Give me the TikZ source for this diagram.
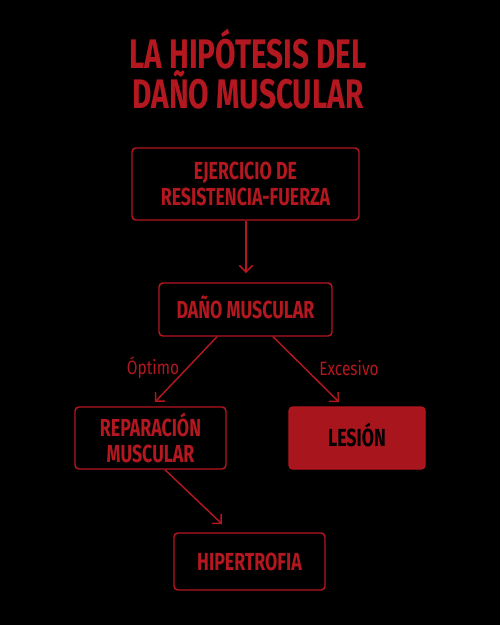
\documentclass[tikz,border=0pt]{standalone}
\usepackage{fontspec}
\setmainfont{Fira Sans}[FakeStretch=0.8]
\newfontfamily\condfont{Fira Sans}[FakeStretch=0.72]
\usetikzlibrary{arrows.meta}
\definecolor{cred}{HTML}{B3171F}
\definecolor{cfill}{HTML}{A8151C}
\begin{document}
\begin{tikzpicture}[x=0.75pt,y=-0.75pt,
  box/.style={draw=cred,line width=1.1pt,rounded corners=3pt,inner sep=0pt,align=center,
    text=cred,font=\condfont\fontsize{18.5}{19.5}\selectfont\bfseries},
  oneline/.style={text height=12.8pt,text depth=0pt},
  arr/.style={draw=cred,line width=1.1pt,-{Straight Barb[length=5pt,width=10pt,line width=1.1pt]}},
  lbl/.style={text=cred,font=\fontsize{14.5}{16}\selectfont}]
\fill[black] (0,0) rectangle (500,625);
\useasboundingbox (0,0) rectangle (500,625);
\node[text=cred,font=\condfont\fontsize{31}{30}\selectfont\bfseries,align=center] (title) at (248,69)
  {LA HIPÓTESIS DEL\\DAÑO MUSCULAR};
\node[box,minimum width=227*0.75pt,minimum height=72*0.75pt] (ej) at (245.5,184)
  {EJERCICIO DE\\RESISTENCIA-FUERZA};
\node[box,oneline,minimum width=173*0.75pt,minimum height=53*0.75pt] (dm) at (245.5,309.5)
  {DAÑO MUSCULAR};
\node[box,minimum width=151*0.75pt,minimum height=62*0.75pt] (rm) at (150.5,438)
  {REPARACIÓN\\MUSCULAR};
\node[box,oneline,fill=cfill,text=black,minimum width=136*0.75pt,minimum height=62*0.75pt] (le) at (357,438)
  {LESIÓN};
\node[box,oneline,minimum width=151*0.75pt,minimum height=57*0.75pt] (hi) at (249.5,561.5)
  {HIPERTROFIA};
\coordinate (a1) at (246,273);
\coordinate (a2) at (155,402);
\coordinate (a3) at (339,402);
\coordinate (a4) at (222,524);
\draw[arr] (ej.south -| a1) -- (a1);
\draw[arr] (dm.south -| 217,0) -- (a2);
\draw[arr] (dm.south -| 273,0) -- (a3);
\draw[arr] (rm.south -| 165,0) -- (a4);
\node[lbl] (op) at (153,368) {Óptimo};
\node[lbl] (ex) at (349,368) {Excesivo};
\end{tikzpicture}
\end{document}
